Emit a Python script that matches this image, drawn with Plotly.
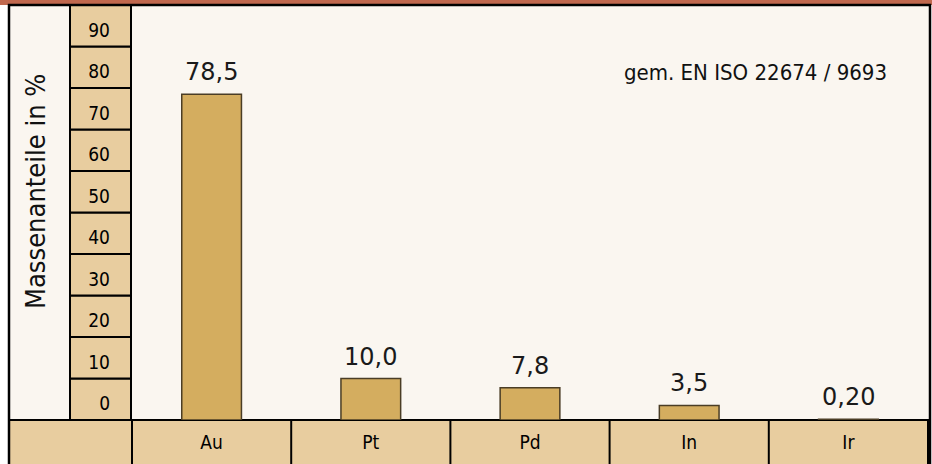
import plotly.graph_objects as go

# ---- data ----
categories = ["Au", "Pt", "Pd", "In", "Ir"]
values = [78.5, 10.0, 7.8, 3.5, 0.20]
value_labels = ["78,5", "10,0", "7,8", "3,5", "0,20"]
ytick_vals = [4, 14, 24, 34, 44, 54, 64, 74, 84, 94]
ytick_text = ["0", "10", "20", "30", "40", "50", "60", "70", "80", "90"]
y_title = "Massenanteile in %"
note = "gem. EN ISO 22674 / 9693"

# ---- style ----
W, H = 932, 464
ML, MR, MT, MB = 131, 3, 5, 44
PW, PH = W - ML - MR, H - MT - MB
CREAM = "#faf6f0"
TAN = "#e8cd9f"
BAR = "#d4ad5f"
BROWN = "#c0684e"
COND = "DejaVu Sans Condensed, Liberation Sans Narrow, sans-serif"

def px_x(px):
    return (px - ML) / PW

def px_y(py):
    return 1 - (py - MT) / PH

fig = go.Figure()
fig.add_trace(go.Bar(
    x=categories, y=values,
    marker=dict(color=BAR, line=dict(color="#4a3d25", width=1.5)),
    width=0.375, hoverinfo="skip",
))

shapes = []
shapes.append(dict(type="rect", xref="paper", yref="paper", layer="below",
                   x0=px_x(9), x1=1, y0=px_y(H + 2), y1=1,
                   fillcolor=CREAM, line=dict(width=0)))
shapes.append(dict(type="rect", xref="paper", yref="paper", layer="below",
                   x0=px_x(-2), x1=px_x(W + 2), y0=1, y1=px_y(-2),
                   fillcolor=BROWN, line=dict(width=0)))
for k in range(10):
    shapes.append(dict(type="rect", xref="paper", yref="y", layer="below",
                       x0=px_x(70), x1=0, y0=10 * k, y1=10 * k + 10,
                       fillcolor=TAN, line=dict(color="black", width=2)))
shapes.append(dict(type="rect", xref="paper", yref="paper", layer="below",
                   x0=px_x(9), x1=1, y0=px_y(H + 2), y1=0,
                   fillcolor=TAN, line=dict(color="black", width=2)))
for i in range(len(categories) + 1):
    shapes.append(dict(type="line", xref="x", yref="paper", layer="below",
                       x0=i - 0.5, x1=i - 0.5, y0=px_y(H + 2), y1=0,
                       line=dict(color="black", width=2)))
shapes.append(dict(type="rect", xref="paper", yref="paper", layer="above",
                   x0=px_x(9), x1=px_x(930), y0=px_y(H + 2), y1=px_y(5),
                   fillcolor="rgba(0,0,0,0)", line=dict(color="black", width=2.5)))

annotations = [
    dict(text=y_title, xref="paper", yref="paper", x=px_x(36), y=px_y(192),
         xanchor="center", yanchor="middle",
         textangle=-90, showarrow=False,
         font=dict(family=COND, size=27, color="#111")),
    dict(text=note, xref="paper", yref="paper", x=px_x(889), y=px_y(73),
         xanchor="right", yanchor="middle", showarrow=False,
         font=dict(family=COND, size=22, color="#111")),
]
for c, v, t in zip(categories, values, value_labels):
    annotations.append(dict(text=t, x=c, y=v, xref="x", yref="y",
                            yanchor="bottom", yshift=6, showarrow=False,
                            font=dict(family="DejaVu Sans, sans-serif", size=24, color="#1a1a1a")))

fig.update_layout(
    width=W, height=H,
    margin=dict(l=ML, r=MR, t=MT, b=MB, pad=0),
    paper_bgcolor="white", plot_bgcolor=CREAM,
    showlegend=False, hovermode=False,
    shapes=shapes, annotations=annotations,
    xaxis=dict(showgrid=False, zeroline=False, showline=False, ticks="",
               tickfont=dict(family=COND, size=19, color="#000"),
               ticklabelstandoff=9, fixedrange=True),
    yaxis=dict(range=[0, 100], showgrid=False, zeroline=False, showline=False,
               ticks="", tickvals=ytick_vals, ticktext=ytick_text,
               tickfont=dict(family=COND, size=19, color="#000"),
               ticklabelstandoff=20, fixedrange=True),
)

fig.write_html("out.html", config={"displayModeBar": False},
               post_script="document.body.style.margin='0';")
